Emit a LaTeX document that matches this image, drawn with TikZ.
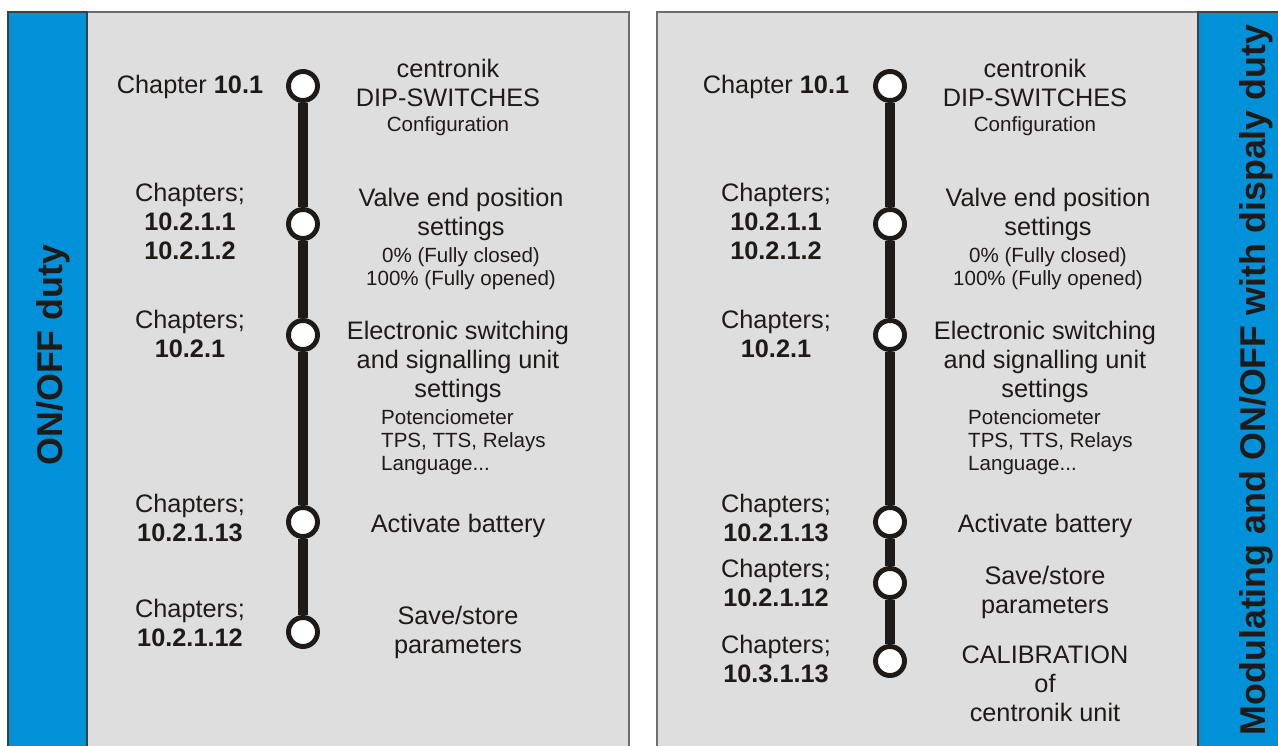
\documentclass[tikz,border=0pt]{standalone}
\usepackage{fontspec}
\setmainfont{Liberation Sans}
\usepackage{xcolor}

\definecolor{panelgray}{RGB}{222,222,222}
\definecolor{framegray}{RGB}{110,110,110}
\definecolor{dutyblue}{RGB}{0,145,216}
\definecolor{inkblack}{RGB}{30,26,24}

\begin{document}
\begin{tikzpicture}[x=0.02cm, y=-0.02cm,
    panel/.style={fill=panelgray, draw=framegray, line width=0.9pt},
    dutybar/.style={fill=dutyblue, draw=black!75, line width=0.9pt},
    duty/.style={rotate=90, anchor=base, text=inkblack, font=\fontsize{20.4}{24}\selectfont\bfseries},
    milestone/.style={circle, draw=inkblack, fill=white, line width=2.8pt, minimum size=0.58cm, inner sep=0pt},
    spine/.style={line width=6.2pt, inkblack},
    chap/.style={anchor=base, align=center, text=inkblack, font=\fontsize{14.4}{16.4}\selectfont},
    task/.style={anchor=base, align=center, text=inkblack, font=\fontsize{14.4}{16.4}\selectfont},
    note/.style={anchor=base, align=center, text=inkblack, font=\fontsize{11.7}{13}\selectfont}
]
    \useasboundingbox (0,0) rectangle (1278,745);
    \clip (0,0) rectangle (1278,745);

    % panels
    \draw[panel] (8,12) rectangle (629,760);
    \draw[dutybar] (8,12) rectangle (87,760);
    \draw[panel] (657,12) rectangle (1198,760);
    \draw[dutybar] (1198,12) rectangle (1300,760);

    \node[duty] (onoff) at (62,355) {ON/OFF duty};
    \node[duty] (modul) at (1265,380) {Modulating and ON/OFF with dispaly duty};

    % left timeline (base = last line)
    \node[milestone] (l1) at (303,86) {};
    \node[milestone] (l2) at (303,224) {};
    \node[milestone] (l3) at (303,335) {};
    \node[milestone] (l4) at (303,522) {};
    \node[milestone] (l5) at (303,632) {};
    \draw[spine] (l1) -- (l2);
    \draw[spine] (l2) -- (l3);
    \draw[spine] (l3) -- (l4);
    \draw[spine] (l4) -- (l5);

    \node[chap] (lc1) at (190,93) {Chapter \textbf{10.1}};
    \node[chap] (lc2) at (190,259) {Chapters;\\\textbf{10.2.1.1}\\\textbf{10.2.1.2}};
    \node[chap] (lc3) at (190,357) {Chapters;\\\textbf{10.2.1}};
    \node[chap] (lc4) at (190,541) {Chapters;\\\textbf{10.2.1.13}};
    \node[chap] (lc5) at (190,646) {Chapters;\\\textbf{10.2.1.12}};

    \node[task] (lt1) at (448,106) {centronik\\DIP-SWITCHES};
    \node[note] (ln1) at (448,131) {Configuration};
    \node[task] (lt2) at (461,235) {Valve end position\\settings};
    \node[note] (ln2) at (461,285) {0\% (Fully closed)\\100\% (Fully opened)};
    \node[task] (lt3) at (458,397) {Electronic switching\\and signalling unit\\settings};
    \node[note, anchor=base west, align=left] (ln3) at (375,470) {Potenciometer\\TPS, TTS, Relays\\Language...};
    \node[task] (lt4) at (458,532) {Activate battery};
    \node[task] (lt5) at (458,653) {Save/store\\parameters};

    % right timeline
    \node[milestone] (r1) at (890,86) {};
    \node[milestone] (r2) at (890,224) {};
    \node[milestone] (r3) at (890,335) {};
    \node[milestone] (r4) at (890,522) {};
    \node[milestone] (r5) at (890,583) {};
    \node[milestone] (r6) at (890,661) {};
    \draw[spine] (r1) -- (r2);
    \draw[spine] (r2) -- (r3);
    \draw[spine] (r3) -- (r4);
    \draw[spine] (r4) -- (r5);
    \draw[spine] (r5) -- (r6);

    \node[chap] (rc1) at (776,93) {Chapter \textbf{10.1}};
    \node[chap] (rc2) at (776,259) {Chapters;\\\textbf{10.2.1.1}\\\textbf{10.2.1.2}};
    \node[chap] (rc3) at (776,357) {Chapters;\\\textbf{10.2.1}};
    \node[chap] (rc4) at (776,541) {Chapters;\\\textbf{10.2.1.13}};
    \node[chap] (rc5) at (776,606) {Chapters;\\\textbf{10.2.1.12}};
    \node[chap] (rc6) at (776,682) {Chapters;\\\textbf{10.3.1.13}};

    \node[task] (rt1) at (1035,106) {centronik\\DIP-SWITCHES};
    \node[note] (rn1) at (1035,131) {Configuration};
    \node[task] (rt2) at (1048,235) {Valve end position\\settings};
    \node[note] (rn2) at (1048,285) {0\% (Fully closed)\\100\% (Fully opened)};
    \node[task] (rt3) at (1045,397) {Electronic switching\\and signalling unit\\settings};
    \node[note, anchor=base west, align=left] (rn3) at (962,470) {Potenciometer\\TPS, TTS, Relays\\Language...};
    \node[task] (rt4) at (1045,532) {Activate battery};
    \node[task] (rt5) at (1045,613) {Save/store\\parameters};
    \node[task] (rt6) at (1045,721) {CALIBRATION\\of\\centronik unit};
\end{tikzpicture}
\end{document}
